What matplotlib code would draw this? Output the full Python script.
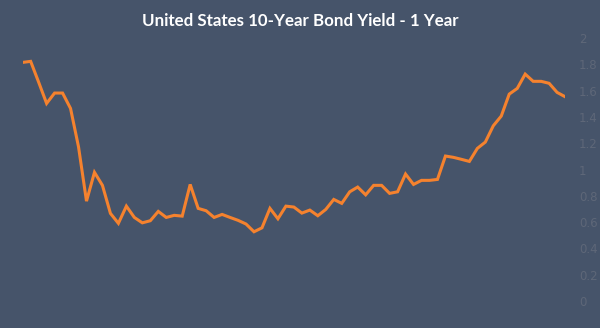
import numpy as np
import matplotlib.pyplot as plt

# ============================================================
# Data: weekly 10-year yield over one year
# ============================================================
YIELDS = [
    1.815, 1.823, 1.665, 1.503, 1.582, 1.582, 1.465, 1.173, 0.760, 0.979,
    0.880, 0.667, 0.591, 0.722, 0.636, 0.595, 0.611, 0.682, 0.636, 0.652,
    0.646, 0.887, 0.705, 0.687, 0.636, 0.659, 0.636, 0.614, 0.586, 0.527,
    0.557, 0.705, 0.626, 0.722, 0.715, 0.669, 0.692, 0.649, 0.697, 0.773,
    0.743, 0.831, 0.867, 0.808, 0.880, 0.880, 0.819, 0.831, 0.966, 0.887,
    0.918, 0.918, 0.925, 1.103, 1.093, 1.078, 1.062, 1.161, 1.209, 1.333,
    1.407, 1.574, 1.617, 1.726, 1.671, 1.671, 1.656, 1.587, 1.554,
]
Y_TICKS = [0, 0.2, 0.4, 0.6, 0.8, 1, 1.2, 1.4, 1.6, 1.8, 2]
TITLE = "United States 10-Year Bond Yield - 1 Year"

BG_COLOR = "#46546A"
LINE_COLOR = "#F5822E"
TICK_COLOR = "#5E6778"

fig = plt.figure(figsize=(6.0, 3.28), dpi=100, facecolor=BG_COLOR)
ax = fig.add_axes([0.0378, 0.042, 0.904, 0.882])
ax.set_facecolor(BG_COLOR)

x = np.arange(len(YIELDS))
ax.plot(x, YIELDS, color=LINE_COLOR, linewidth=2.2, solid_joinstyle="miter")

ax.set_xlim(0, len(YIELDS) - 1)
ax.set_ylim(-0.1, 2.1)
ax.set_yticks(Y_TICKS)
ax.set_yticklabels([f"{v:g}" for v in Y_TICKS])
ax.yaxis.tick_right()
ax.tick_params(axis="y", length=0, pad=10, labelsize=8.5, labelcolor=TICK_COLOR)
ax.set_xticks([])
for spine in ax.spines.values():
    spine.set_visible(False)

fig.text(0.5, 0.935, TITLE, ha="center", va="center", color="white",
         fontsize=12.2, fontweight="bold", family="Lato")

fig.savefig("out.png", dpi=100, facecolor=BG_COLOR)
